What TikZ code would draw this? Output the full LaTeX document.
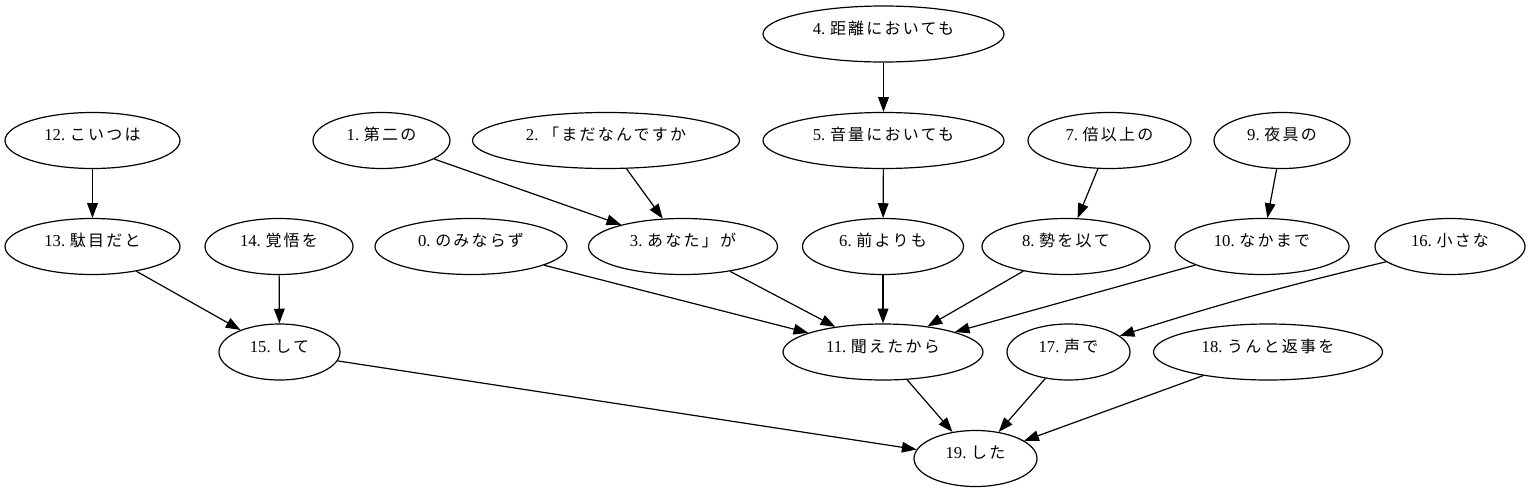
\documentclass[tikz,border=0pt]{standalone}
\usepackage{fontspec}
\setmainfont{Liberation Serif}
\newfontfamily\jpf[LetterSpace=14]{Noto Sans CJK JP}
\usetikzlibrary{shapes.geometric,arrows.meta}
\newcommand{\lb}[2]{#1\hspace{3.5pt}{\jpf\fontsize{12}{14}\selectfont #2}}
\begin{document}
\begin{tikzpicture}[x=0.75pt,y=-0.75pt,
  tok/.style={draw,ellipse,line width=0.9pt,inner sep=0pt,minimum height=56*0.75pt,
    minimum width=#1*0.75pt,text height=5pt,text depth=5pt,font=\fontsize{12.5}{14}\selectfont},
  arr/.style={line width=0.9pt,-{Triangle[length=11pt,width=8pt]}}]
\useasboundingbox (0,0) rectangle (1530,493);
% row 1
\node[tok=241] (n4) at (883.5,34) {\lb{4.}{距離においても}};
% row 2
\node[tok=175] (n12) at (92.5,140.5) {\lb{12.}{こいつは}};
\node[tok=137] (n1) at (381.5,140.5) {\lb{1.}{第二の}};
\node[tok=267] (n2) at (606,140.5) {\lb{2.}{「まだなんですか}};
\node[tok=241] (n5) at (883.5,140.5) {\lb{5.}{音量においても}};
\node[tok=163] (n7) at (1109.5,140.5) {\lb{7.}{倍以上の}};
\node[tok=136] (n9) at (1282,140.5) {\lb{9.}{夜具の}};
% row 3
\node[tok=175] (n13) at (92.5,246.5) {\lb{13.}{駄目だと}};
\node[tok=148] (n14) at (279,246.5) {\lb{14.}{覚悟を}};
\node[tok=192] (n0) at (471,246.5) {\lb{0.}{のみならず}};
\node[tok=189] (n3) at (683,246.5) {\lb{3.}{あなた」が}};
\node[tok=161] (n6) at (883,246.5) {\lb{6.}{前よりも}};
\node[tok=168] (n8) at (1066,246.5) {\lb{8.}{勢を以て}};
\node[tok=174] (n10) at (1262,246.5) {\lb{10.}{なかまで}};
\node[tok=150] (n16) at (1450,246.5) {\lb{16.}{小さな}};
% row 4
\node[tok=121] (n15) at (279.5,352) {\lb{15.}{して}};
\node[tok=200] (n11) at (883,352) {\lb{11.}{聞えたから}};
\node[tok=123] (n17) at (1068.5,352) {\lb{17.}{声で}};
\node[tok=229] (n18) at (1268,352) {\lb{18.}{うんと返事を}};
% row 5
\node[tok=123] (n19) at (975.5,458.5) {\lb{19.}{した}};
% edges
\draw[arr] (n4) -- (n5);
\draw[arr] (n12) -- (n13);
\draw[arr] (n1) -- (n3);
\draw[arr] (n2) -- (n3);
\draw[arr] (n5) -- (n6);
\draw[arr] (n7) -- (n8);
\draw[arr] (n9) -- (n10);
\draw[arr] (n13) -- (n15);
\draw[arr] (n14) -- (n15);
\draw[arr] (n0) -- (n11);
\draw[arr] (n3) -- (n11);
\draw[arr] (n6) -- (n11);
\draw[arr] (n8) -- (n11);
\draw[arr] (n10) -- (n11);
\draw[arr] (n16) to[bend right=2] (n17);
\draw[arr] (n15) -- (n19);
\draw[arr] (n11) -- (n19);
\draw[arr] (n17) -- (n19);
\draw[arr] (n18) -- (n19);
\end{tikzpicture}
\end{document}
